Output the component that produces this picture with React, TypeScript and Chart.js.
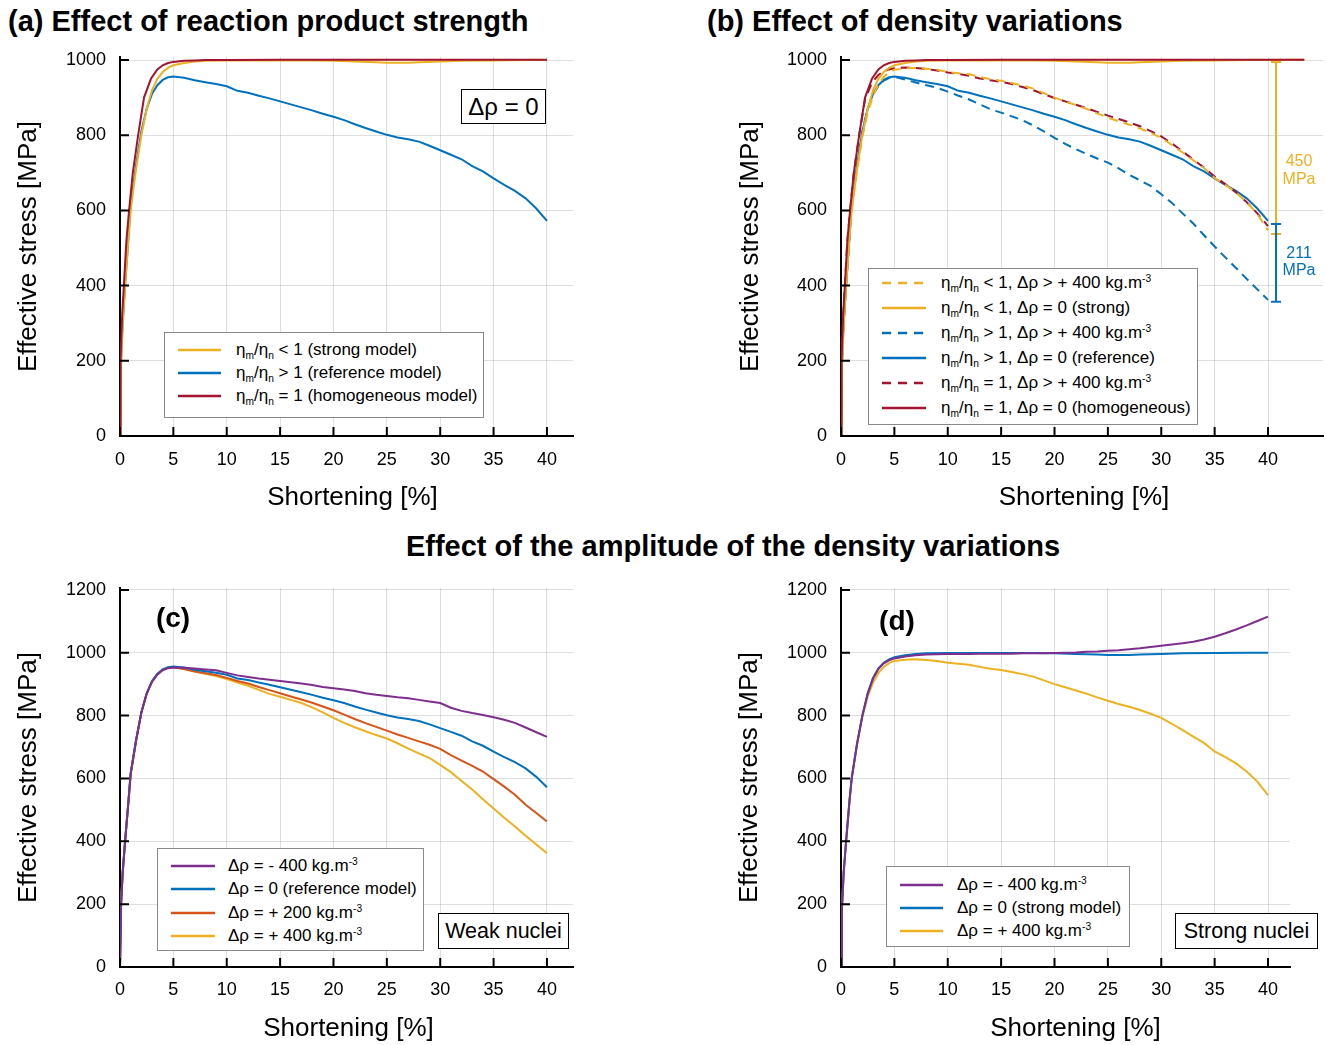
import React, { useEffect, useRef } from 'react';
import { Chart, registerables } from 'chart.js';

Chart.register(...registerables);

const FONT = '"Liberation Sans", Arimo, Arial, Helvetica, sans-serif';
const GRID = 'rgba(0,0,0,0.13)';
const BLUE = '#0072BD';
const ORANGE = '#D95319';
const YELLOW = '#EDB120';
const PURPLE = '#7E2F8E';
const RED = '#A2142F';

// ---------- tick labels ----------
const xTicks = [0, 5, 10, 15, 20, 25, 30, 35, 40];
const yTicksTop = [0, 200, 400, 600, 800, 1000];
const yTicksBottom = [0, 200, 400, 600, 800, 1000, 1200];

// ---------- data (shortening %, effective stress MPa) ----------
const tailX = [6, 7, 8, 9, 10, 11, 12, 13, 14, 15, 16, 17, 18, 19, 20, 21, 22, 23, 24, 25, 26, 27, 28, 29, 30, 31, 32, 33, 34, 35, 36, 37, 38, 39, 40];
const weakRiseX = [0, 0.1, 0.25, 0.5, 0.75, 1, 1.5, 2, 2.5, 3, 3.5, 4, 4.5, 5];
const strongRiseX = [0, 0.08, 0.25, 0.5, 0.8, 1, 1.5, 2, 2.5, 3, 3.5, 4, 4.5, 5];
const homRiseX = [0, 0.05, 0.2, 0.4, 0.6, 0.85, 1.2, 1.7, 2.25, 2.9, 3.5, 4, 4.5, 5];

// ηm/ηn > 1, Δρ = 0 (reference model)
const refRiseY = [0, 200, 300, 410, 510, 615, 720, 810, 870, 910, 933, 947, 954, 956];
const refTailY = [953, 946, 941, 936, 930, 918, 913, 905, 898, 890, 882, 874, 866, 857, 849, 840, 829, 819, 810, 801, 794, 789, 783, 772, 760, 748, 736, 718, 704, 685, 668, 652, 632, 605, 572];

// ηm/ηn > 1, Δρ = +400 kg/m3
const weakDenseRiseY = [0, 200, 300, 410, 510, 615, 720, 810, 870, 908, 931, 945, 952, 955];
const weakDenseTailY = [948, 940, 933, 926, 916, 905, 895, 882, 869, 860, 850, 840, 826, 810, 793, 777, 763, 750, 738, 727, 712, 695, 680, 665, 643, 620, 592, 565, 534, 504, 475, 447, 418, 390, 362];

// ηm/ηn > 1, Δρ = -400 kg/m3
const weakLightRiseY = [0, 200, 300, 410, 510, 615, 720, 810, 870, 908, 931, 945, 951, 953];
const weakLightTailY = [952, 950, 947, 944, 936, 928, 923, 918, 914, 910, 906, 902, 897, 891, 887, 883, 878, 871, 866, 862, 858, 855, 850, 845, 840, 825, 815, 808, 802, 795, 787, 777, 762, 747, 732];

// ηm/ηn > 1, Δρ = +200 kg/m3
const weakMidRiseY = [0, 200, 300, 410, 510, 615, 720, 810, 870, 908, 931, 945, 952, 954];
const weakMidTailY = [948, 940, 935, 929, 920, 910, 902, 891, 881, 871, 861, 851, 841, 829, 817, 803, 789, 776, 764, 752, 740, 729, 718, 707, 694, 674, 657, 640, 622, 598, 574, 548, 516, 490, 463];

// ηm/ηn < 1, Δρ = 0 (strong model)
const strongRiseY = [0, 180, 300, 410, 530, 600, 710, 800, 870, 920, 950, 968, 979, 986];
const strongTailX = [6, 7, 8, 10, 12, 15, 18, 20, 22, 24, 25, 26, 27, 28, 30, 32, 35, 38, 40, 42, 43.4];
const strongTailY = [992, 996, 998, 999, 999, 999, 999, 998, 996, 994, 993, 993, 993, 994, 996, 998, 999, 1000, 1000, 1001, 1001];

// ηm/ηn < 1, Δρ = +400 kg/m3
const strongDenseRiseY = [0, 180, 300, 410, 530, 600, 705, 795, 860, 905, 935, 955, 967, 974];
const strongDenseTailY = [978, 979, 977, 974, 968, 965, 962, 955, 949, 945, 939, 932, 924, 912, 900, 890, 880, 870, 858, 847, 837, 828, 818, 806, 793, 774, 754, 733, 713, 686, 668, 648, 622, 590, 547];

// ηm/ηn < 1, Δρ = -400 kg/m3
const strongLightRiseY = [0, 180, 300, 410, 530, 600, 710, 800, 870, 918, 948, 966, 976, 982];
const strongLightTailY = [988, 992, 994, 995, 996, 996, 996, 997, 997, 997, 997, 998, 998, 998, 999, 1000, 1001, 1003, 1004, 1006, 1008, 1011, 1014, 1018, 1022, 1026, 1030, 1035, 1042, 1051, 1062, 1074, 1087, 1101, 1115];

// ηm/ηn = 1, Δρ = 0 (homogeneous)
const homRiseY = [0, 200, 320, 420, 520, 600, 700, 800, 900, 950, 975, 986, 992, 995];
const homTailX = [6, 7, 8, 10, 15, 20, 25, 30, 35, 40, 43.4];
const homTailY = [998, 999, 1000, 1000, 1001, 1001, 1001, 1001, 1001, 1001, 1001];

// ηm/ηn = 1, Δρ = +400 kg/m3
const homDenseRiseY = [0, 200, 320, 420, 520, 600, 700, 800, 895, 940, 960, 970, 975, 978];
const homDenseTailY = [980, 979, 976, 972, 967, 963, 958, 951, 946, 942, 936, 928, 920, 909, 899, 890, 881, 872, 862, 852, 843, 834, 824, 811, 797, 778, 757, 735, 714, 690, 670, 648, 622, 592, 558];

// stress-drop annotations of panel (b)
const bracketX = 40.75;
const drop450 = [995, 537];
const drop450Text = ['450', 'MPa'];
const drop450TextY = [729, 681];
const drop211 = [564, 357];
const drop211Text = ['211', 'MPa'];
const drop211TextY = [484, 439];

// ---------- helpers ----------
type Pt = { x: number; y: number };
const zip = (xs: number[], ys: number[]): Pt[] => xs.map((x, i) => ({ x, y: ys[i] }));
const upTo = (pts: Pt[], xm: number) => pts.filter((p) => p.x <= xm);

const refPts = zip([...weakRiseX, ...tailX], [...refRiseY, ...refTailY]);
const weakDensePts = zip([...weakRiseX, ...tailX], [...weakDenseRiseY, ...weakDenseTailY]);
const weakLightPts = zip([...weakRiseX, ...tailX], [...weakLightRiseY, ...weakLightTailY]);
const weakMidPts = zip([...weakRiseX, ...tailX], [...weakMidRiseY, ...weakMidTailY]);
const strongPts = zip([...strongRiseX, ...strongTailX], [...strongRiseY, ...strongTailY]);
const strongDensePts = zip([...strongRiseX, ...tailX], [...strongDenseRiseY, ...strongDenseTailY]);
const strongLightPts = zip([...strongRiseX, ...tailX], [...strongLightRiseY, ...strongLightTailY]);
const homPts = zip([...homRiseX, ...homTailX], [...homRiseY, ...homTailY]);
const homDensePts = zip([...homRiseX, ...tailX], [...homDenseRiseY, ...homDenseTailY]);

type Series = { label: string; data: Pt[]; color: string; dash?: number[] };
type Panel = {
  key: string; left: number; top: number; width: number; height: number;
  yW: number; xH: number; padTop: number; padRight: number;
  xMax: number; yMax: number; yTicks: number[]; xTickPad: number; xTitleY: number; xTitleShift: number; yTitlePad: number;
  series: Series[]; brackets?: boolean;
};

const DASH = [9, 6];

// series listed bottom-to-top in drawing order
const panels: Panel[] = [
  {
    key: 'a', left: 0, top: 40, width: 590, height: 480, yW: 120, xH: 84, padTop: 17, padRight: 17,
    xMax: 42.44, yMax: 1008, yTicks: yTicksTop, xTickPad: 13, xTitleY: 458, xTitleShift: 6, yTitlePad: 12.8,
    series: [
      { label: 'ηm/ηn > 1 (reference model)', data: refPts, color: BLUE },
      { label: 'ηm/ηn < 1 (strong model)', data: upTo(strongPts, 40), color: YELLOW },
      { label: 'ηm/ηn = 1 (homogeneous model)', data: upTo(homPts, 40), color: RED },
    ],
  },
  {
    key: 'b', left: 700, top: 40, width: 627, height: 480, yW: 141, xH: 84, padTop: 17, padRight: 4,
    xMax: 45.15, yMax: 1008, yTicks: yTicksTop, xTickPad: 13, xTitleY: 458, xTitleShift: 2, yTitlePad: 35.4, brackets: true,
    series: [
      { label: 'ηm/ηn > 1, Δρ > + 400 kg.m-3', data: weakDensePts, color: BLUE, dash: DASH },
      { label: 'ηm/ηn > 1, Δρ = 0 (reference)', data: refPts, color: BLUE },
      { label: 'ηm/ηn = 1, Δρ > + 400 kg.m-3', data: homDensePts, color: RED, dash: DASH },
      { label: 'ηm/ηn < 1, Δρ > + 400 kg.m-3', data: strongDensePts, color: YELLOW, dash: DASH },
      { label: 'ηm/ηn < 1, Δρ = 0 (strong)', data: strongPts, color: YELLOW },
      { label: 'ηm/ηn = 1, Δρ = 0 (homogeneous)', data: homPts, color: RED },
    ],
  },
  {
    key: 'c', left: 0, top: 570, width: 590, height: 475, yW: 120, xH: 78, padTop: 18, padRight: 17,
    xMax: 42.44, yMax: 1206, yTicks: yTicksBottom, xTickPad: 12, xTitleY: 459, xTitleShift: 2, yTitlePad: 12.8,
    series: [
      { label: 'Δρ = + 400 kg.m-3', data: weakDensePts, color: YELLOW },
      { label: 'Δρ = + 200 kg.m-3', data: weakMidPts, color: ORANGE },
      { label: 'Δρ = 0 (reference model)', data: refPts, color: BLUE },
      { label: 'Δρ = - 400 kg.m-3', data: weakLightPts, color: PURPLE },
    ],
  },
  {
    key: 'd', left: 720, top: 570, width: 607, height: 475, yW: 121, xH: 78, padTop: 18, padRight: 37,
    xMax: 42.06, yMax: 1206, yTicks: yTicksBottom, xTickPad: 12, xTitleY: 459, xTitleShift: 10, yTitlePad: 14,
    series: [
      { label: 'Δρ = + 400 kg.m-3', data: strongDensePts, color: YELLOW },
      { label: 'Δρ = 0 (strong model)', data: upTo(strongPts, 40), color: BLUE },
      { label: 'Δρ = - 400 kg.m-3', data: strongLightPts, color: PURPLE },
    ],
  },
];

// ---------- plugins ----------
const innerTicks = {
  id: 'innerTicks',
  afterDatasetsDraw(chart: any) {
    const { ctx, chartArea, scales } = chart;
    const x = scales.x;
    const y = scales.y;
    ctx.save();
    ctx.strokeStyle = '#000';
    ctx.lineWidth = 2;
    ctx.beginPath();
    x.ticks.forEach((t: any) => {
      const px = x.getPixelForValue(t.value);
      ctx.moveTo(px, chartArea.bottom);
      ctx.lineTo(px, chartArea.bottom - 9);
    });
    y.ticks.forEach((t: any) => {
      const py = y.getPixelForValue(t.value);
      ctx.moveTo(chartArea.left, py);
      ctx.lineTo(chartArea.left + 9, py);
    });
    ctx.stroke();
    ctx.restore();
  },
};

const xAxisTitle = {
  id: 'xAxisTitle',
  afterDraw(chart: any, _args: any, opts: any) {
    const { ctx, chartArea } = chart;
    ctx.save();
    ctx.fillStyle = '#000';
    ctx.font = `26px ${FONT}`;
    ctx.textAlign = 'center';
    ctx.textBaseline = 'middle';
    ctx.fillText(opts.text, (chartArea.left + chartArea.right) / 2 + opts.shift, opts.y);
    ctx.restore();
  },
};

const dropBrackets = {
  id: 'dropBrackets',
  afterDatasetsDraw(chart: any) {
    const { ctx, scales } = chart;
    const x = scales.x;
    const y = scales.y;
    const px = x.getPixelForValue(bracketX);
    const items = [
      { range: drop450, color: YELLOW, text: drop450Text, ty: drop450TextY },
      { range: drop211, color: BLUE, text: drop211Text, ty: drop211TextY },
    ];
    ctx.save();
    items.forEach((b) => {
      const y1 = y.getPixelForValue(b.range[0]);
      const y2 = y.getPixelForValue(b.range[1]);
      ctx.strokeStyle = b.color;
      ctx.lineWidth = 2;
      ctx.beginPath();
      ctx.moveTo(px, y1);
      ctx.lineTo(px, y2);
      ctx.moveTo(px - 5, y1);
      ctx.lineTo(px + 5, y1);
      ctx.moveTo(px - 5, y2);
      ctx.lineTo(px + 5, y2);
      ctx.stroke();
      ctx.fillStyle = b.color;
      ctx.font = `16px ${FONT}`;
      ctx.textAlign = 'center';
      ctx.textBaseline = 'middle';
      b.text.forEach((t, i) => ctx.fillText(t, px + 23, y.getPixelForValue(b.ty[i])));
    });
    ctx.restore();
  },
};

function buildConfig(p: Panel): any {
  const n = p.series.length;
  return {
    type: 'line',
    data: {
      datasets: p.series.map((s, i) => ({
        label: s.label,
        data: s.data,
        borderColor: s.color,
        backgroundColor: s.color,
        borderWidth: 2,
        borderDash: s.dash || [],
        pointRadius: 0,
        fill: false,
        tension: 0,
        order: n - i,
      })),
    },
    options: {
      animation: false,
      responsive: false,
      maintainAspectRatio: false,
      devicePixelRatio: 1,
      events: [],
      layout: { padding: { left: 0, top: p.padTop, right: p.padRight, bottom: 0 } },
      plugins: {
        legend: { display: false },
        tooltip: { enabled: false },
        title: { display: false },
        xAxisTitle: { text: 'Shortening [%]', y: p.xTitleY, shift: p.xTitleShift },
      },
      scales: {
        x: {
          type: 'linear',
          min: 0,
          max: p.xMax,
          afterFit: (s: any) => { s.height = p.xH; s.paddingLeft = 0; s.paddingRight = 0; },
          afterBuildTicks: (s: any) => { s.ticks = xTicks.map((v) => ({ value: v })); },
          ticks: {
            autoSkip: false, maxRotation: 0, callback: (v: any) => String(v),
            font: { family: FONT, size: 18 }, color: '#000', padding: p.xTickPad,
          },
          grid: { color: GRID, lineWidth: 1, drawTicks: false },
          border: { display: true, color: '#000', width: 2 },
          title: { display: false },
        },
        y: {
          type: 'linear',
          min: 0,
          max: p.yMax,
          afterFit: (s: any) => { s.width = p.yW; s.paddingTop = 0; s.paddingBottom = 0; },
          afterBuildTicks: (s: any) => { s.ticks = p.yTicks.map((v) => ({ value: v })); },
          ticks: {
            autoSkip: false, callback: (v: any) => String(v),
            font: { family: FONT, size: 18 }, color: '#000', padding: 14,
          },
          grid: { color: GRID, lineWidth: 1, drawTicks: false },
          border: { display: true, color: '#000', width: 2 },
          title: {
            display: true, text: 'Effective stress [MPa]', color: '#000',
            font: { family: FONT, size: 26 }, padding: { top: p.yTitlePad, bottom: 0 },
          },
        },
      },
    },
    plugins: p.brackets ? [innerTicks, xAxisTitle, dropBrackets] : [innerTicks, xAxisTitle],
  };
}

function ChartPanel({ p }: { p: Panel }) {
  const ref = useRef<HTMLCanvasElement>(null);
  useEffect(() => {
    const chart = new Chart(ref.current as HTMLCanvasElement, buildConfig(p));
    return () => chart.destroy();
  }, []);
  return (
    <canvas
      ref={ref}
      width={p.width}
      height={p.height}
      style={{ position: 'absolute', left: p.left, top: p.top, width: p.width, height: p.height }}
    />
  );
}

// ---------- legends ----------
function Rich({ text }: { text: string }) {
  const parts = text.split(/(_\{[^}]*\}|\^\{[^}]*\})/).filter(Boolean);
  return (
    <>
      {parts.map((s, i) => {
        if (s.startsWith('_{'))
          return <span key={i} style={{ fontSize: '0.6em', position: 'relative', top: '0.4em' }}>{s.slice(2, -1)}</span>;
        if (s.startsWith('^{'))
          return <span key={i} style={{ fontSize: '0.6em', position: 'relative', top: '-0.55em' }}>{s.slice(2, -1)}</span>;
        return <span key={i}>{s}</span>;
      })}
    </>
  );
}

type LegendRow = { label: string; color: string; dash?: boolean };
type LegendBox = { left: number; top: number; w: number; h: number; row0: number; gap: number; lx1: number; lx2: number; tx: number; rows: LegendRow[] };

const legendA: LegendRow[] = [
  { label: 'η_{m}/η_{n} < 1 (strong model)', color: YELLOW },
  { label: 'η_{m}/η_{n} > 1 (reference model)', color: BLUE },
  { label: 'η_{m}/η_{n} = 1 (homogeneous model)', color: RED },
];
const legendB: LegendRow[] = [
  { label: 'η_{m}/η_{n} < 1, Δρ > + 400 kg.m^{-3}', color: YELLOW, dash: true },
  { label: 'η_{m}/η_{n} < 1, Δρ = 0 (strong)', color: YELLOW },
  { label: 'η_{m}/η_{n} > 1, Δρ > + 400 kg.m^{-3}', color: BLUE, dash: true },
  { label: 'η_{m}/η_{n} > 1, Δρ = 0 (reference)', color: BLUE },
  { label: 'η_{m}/η_{n} = 1, Δρ > + 400 kg.m^{-3}', color: RED, dash: true },
  { label: 'η_{m}/η_{n} = 1, Δρ = 0 (homogeneous)', color: RED },
];
const legendC: LegendRow[] = [
  { label: 'Δρ = - 400 kg.m^{-3}', color: PURPLE },
  { label: 'Δρ = 0 (reference model)', color: BLUE },
  { label: 'Δρ = + 200 kg.m^{-3}', color: ORANGE },
  { label: 'Δρ = + 400 kg.m^{-3}', color: YELLOW },
];
const legendD: LegendRow[] = [
  { label: 'Δρ = - 400 kg.m^{-3}', color: PURPLE },
  { label: 'Δρ = 0 (strong model)', color: BLUE },
  { label: 'Δρ = + 400 kg.m^{-3}', color: YELLOW },
];

const legends: LegendBox[] = [
  { left: 164, top: 332, w: 320, h: 86, row0: 17, gap: 23, lx1: 13, lx2: 56, tx: 71, rows: legendA },
  { left: 868, top: 268, w: 330, h: 157, row0: 14, gap: 25, lx1: 13, lx2: 57, tx: 72, rows: legendB },
  { left: 157, top: 848, w: 267, h: 103, row0: 17, gap: 23.3, lx1: 13, lx2: 57, tx: 70, rows: legendC },
  { left: 886, top: 866, w: 244, h: 81, row0: 18, gap: 23, lx1: 13, lx2: 56, tx: 70, rows: legendD },
];

function Legend({ b }: { b: LegendBox }) {
  return (
    <div
      style={{
        position: 'absolute', left: b.left, top: b.top, width: b.w, height: b.h,
        border: '1px solid #8a8a8a', background: '#fff', boxSizing: 'border-box',
      }}
    >
      {b.rows.map((r, i) => {
        const cy = b.row0 + i * b.gap;
        const w = b.lx2 - b.lx1;
        return (
          <React.Fragment key={i}>
            <svg style={{ position: 'absolute', left: b.lx1, top: cy - 3 }} width={w} height={6}>
              <line x1={0} y1={3} x2={w} y2={3} stroke={r.color} strokeWidth={2.5} strokeDasharray={r.dash ? '9 7' : undefined} />
            </svg>
            <div
              style={{
                position: 'absolute', left: b.tx, top: cy - 11, height: 22, lineHeight: '22px',
                fontSize: 17, whiteSpace: 'nowrap', color: '#000',
              }}
            >
              <Rich text={r.label} />
            </div>
          </React.Fragment>
        );
      })}
    </div>
  );
}

function TextBox({ left, top, w, h, size, text }: { left: number; top: number; w: number; h: number; size: number; text: string }) {
  return (
    <div
      style={{
        position: 'absolute', left, top, width: w, height: h, border: '1px solid #000', background: '#fff',
        boxSizing: 'border-box', display: 'flex', alignItems: 'center', justifyContent: 'center',
        fontSize: size, color: '#000', whiteSpace: 'nowrap',
      }}
    >
      {text}
    </div>
  );
}

function Label({ x, y, size, text, center }: { x: number; y: number; size: number; text: string; center?: boolean }) {
  return (
    <div
      style={{
        position: 'absolute', left: x, top: y - size * 0.6, height: size * 1.2, lineHeight: `${size * 1.2}px`,
        fontSize: size, fontWeight: 'bold', color: '#000', whiteSpace: 'nowrap',
        transform: center ? 'translateX(-50%)' : undefined,
      }}
    >
      {text}
    </div>
  );
}

export default function App() {
  return (
    <div
      style={{
        position: 'absolute', left: 0, top: 0, width: 1327, height: 1045, background: '#fff',
        fontFamily: FONT, overflow: 'hidden',
      }}
    >
      {panels.map((p) => (
        <ChartPanel key={p.key} p={p} />
      ))}
      <Label x={8} y={21} size={29} text="(a) Effect of reaction product strength" />
      <Label x={707} y={21} size={29} text="(b) Effect of density variations" />
      <Label x={733} y={546} size={29} text="Effect of the amplitude of the density variations" center />
      <Label x={173} y={618} size={28} text="(c)" center />
      <Label x={897} y={621} size={28} text="(d)" center />
      {legends.map((b, i) => (
        <Legend key={i} b={b} />
      ))}
      <TextBox left={461} top={89} w={85} h={35} size={24} text="Δρ = 0" />
      <TextBox left={438} top={913} w={131} h={36} size={21.5} text="Weak nuclei" />
      <TextBox left={1175} top={913} w={143} h={36} size={21.5} text="Strong nuclei" />
    </div>
  );
}
